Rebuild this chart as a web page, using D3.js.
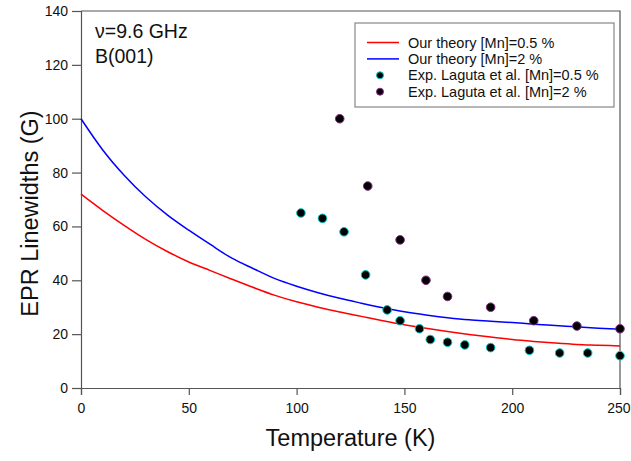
<!DOCTYPE html>
<html>
<head>
<meta charset="utf-8">
<script src="https://cdnjs.cloudflare.com/ajax/libs/d3/7.8.5/d3.min.js"></script>
<style>
  body { margin: 0; background: #fff; }
  svg text { font-family: "Liberation Sans", Arial, sans-serif; fill: #111; }
</style>
</head>
<body>
<div id="chart"></div>
<script>
// --- data ---
const theoryT = [0, 10, 20, 30, 40, 50, 60, 70, 80, 90, 100, 110, 120, 130, 140, 150, 160, 170, 180, 190, 200, 210, 220, 230, 240, 250];
const theoryLow = [72, 66.0, 60.4, 55.2, 50.7, 46.8, 43.6, 40.4, 37.3, 34.4, 32.0, 30.0, 28.2, 26.6, 25.0, 23.5, 22.2, 21.0, 19.9, 18.9, 18.0, 17.3, 16.7, 16.2, 15.9, 15.6];
const theoryHigh = [100, 88.5, 79.0, 71.0, 64.3, 58.6, 53.3, 48.2, 44.3, 40.6, 37.8, 35.4, 33.3, 31.5, 29.8, 28.3, 27.1, 26.1, 25.3, 24.8, 24.3, 23.7, 23.2, 22.7, 22.2, 21.8];

const expLowT = [102, 112, 122, 132, 142, 148, 157, 162, 170, 178, 190, 208, 222, 235, 250];
const expLowW = [65, 63, 58, 42, 29, 25, 22, 18, 17, 16, 15, 14, 13, 13, 12];
const expHighT = [120, 133, 148, 160, 170, 190, 210, 230, 250];
const expHighW = [100, 75, 55, 40, 34, 30, 25, 23, 22];

const xTicks = [0, 50, 100, 150, 200, 250];
const yTicks = [0, 20, 40, 60, 80, 100, 120, 140];

const legendItems = [
  { label: "Our theory [Mn]=0.5 %", kind: "line", color: "#ff0000" },
  { label: "Our theory [Mn]=2 %", kind: "line", color: "#0000ff" },
  { label: "Exp. Laguta et al. [Mn]=0.5 %", kind: "dot", color: "#00c8c8" },
  { label: "Exp. Laguta et al. [Mn]=2 %", kind: "dot", color: "#8a2a8a" }
];

// --- layout ---
const width = 631, height = 461;
const margin = { top: 11, right: 11, bottom: 73, left: 81 };
const innerW = width - margin.left - margin.right;
const innerH = height - margin.top - margin.bottom;

const svg = d3.select("#chart").append("svg")
  .attr("width", width)
  .attr("height", height);

const g = svg.append("g").attr("transform", `translate(${margin.left},${margin.top})`);

const x = d3.scaleLinear().domain([0, 250]).range([0, innerW]);
const y = d3.scaleLinear().domain([0, 140]).range([innerH, 0]);

// frame (top and right sides)
g.append("path")
  .attr("d", `M0,0H${innerW}V${innerH}`)
  .attr("fill", "none")
  .attr("stroke", "#555")
  .attr("stroke-width", 1.2);

// axes
const xAxis = g.append("g")
  .attr("transform", `translate(0,${innerH})`)
  .call(d3.axisBottom(x).tickValues(xTicks).tickSize(7).tickPadding(8).tickFormat(d3.format("d")));
const yAxis = g.append("g")
  .call(d3.axisLeft(y).tickValues(yTicks).tickSize(9).tickPadding(4).tickFormat(d3.format("d")));

[xAxis, yAxis].forEach(ax => {
  ax.select(".domain").attr("stroke", "#555").attr("stroke-width", 1.2);
  ax.selectAll(".tick line").attr("stroke", "#555").attr("stroke-width", 1.2);
  ax.selectAll(".tick text")
    .attr("font-size", 14)
    .attr("font-family", "Liberation Sans, Arial, sans-serif")
    .attr("fill", "#222");
});
// keep the last x label inside the window
xAxis.selectAll(".tick text").filter(d => d === 250).attr("text-anchor", "end").attr("dx", 10);

// axis titles
svg.append("text")
  .attr("x", margin.left + innerW / 2)
  .attr("y", 446)
  .attr("text-anchor", "middle")
  .attr("font-size", 23.5)
  .text("Temperature (K)");

svg.append("text")
  .attr("transform", `translate(38,${margin.top + innerH / 2 + 14}) rotate(-90)`)
  .attr("text-anchor", "middle")
  .attr("font-size", 23.5)
  .text("EPR Linewidths (G)");

// annotation text
g.append("text").attr("x", 14).attr("y", 27).attr("font-size", 19.5).text("\u03bd=9.6 GHz");
g.append("text").attr("x", 14).attr("y", 52).attr("font-size", 19.5).text("B(001)");

// theory curves
const line = d3.line()
  .x(d => x(d[0]))
  .y(d => y(d[1]))
  .curve(d3.curveMonotoneX);

g.append("path")
  .datum(d3.zip(theoryT, theoryLow))
  .attr("fill", "none")
  .attr("stroke", "#ff0000")
  .attr("stroke-width", 1.5)
  .attr("d", line);

g.append("path")
  .datum(d3.zip(theoryT, theoryHigh))
  .attr("fill", "none")
  .attr("stroke", "#0000ff")
  .attr("stroke-width", 1.5)
  .attr("d", line);

// experimental points
g.selectAll(".exp-low")
  .data(d3.zip(expLowT, expLowW))
  .enter().append("circle")
  .attr("class", "exp-low")
  .attr("cx", d => x(d[0]))
  .attr("cy", d => y(d[1]))
  .attr("r", 4.3)
  .attr("fill", "#000")
  .attr("stroke", legendItems[2].color)
  .attr("stroke-width", 1);

g.selectAll(".exp-high")
  .data(d3.zip(expHighT, expHighW))
  .enter().append("circle")
  .attr("class", "exp-high")
  .attr("cx", d => x(d[0]))
  .attr("cy", d => y(d[1]))
  .attr("r", 4.3)
  .attr("fill", "#000")
  .attr("stroke", legendItems[3].color)
  .attr("stroke-width", 1);

// legend
const legend = svg.append("g").attr("transform", "translate(355,23)");
legend.append("rect")
  .attr("width", 259)
  .attr("height", 84)
  .attr("fill", "#fff")
  .attr("stroke", "#888")
  .attr("stroke-width", 1.2);

const rows = legend.selectAll(".row")
  .data(legendItems)
  .enter().append("g")
  .attr("transform", (d, i) => `translate(0,${19.5 + i * 16.4})`);

rows.filter(d => d.kind === "line").append("line")
  .attr("x1", 12).attr("x2", 44)
  .attr("y1", 0).attr("y2", 0)
  .attr("stroke", d => d.color)
  .attr("stroke-width", 1.5);

rows.filter(d => d.kind === "dot").append("circle")
  .attr("cx", 25).attr("cy", 0).attr("r", 3.5)
  .attr("fill", "#000")
  .attr("stroke", d => d.color)
  .attr("stroke-width", 1);

rows.append("text")
  .attr("x", 53)
  .attr("y", 5)
  .attr("font-size", 14.5)
  .text(d => d.label);
</script>
</body>
</html>
